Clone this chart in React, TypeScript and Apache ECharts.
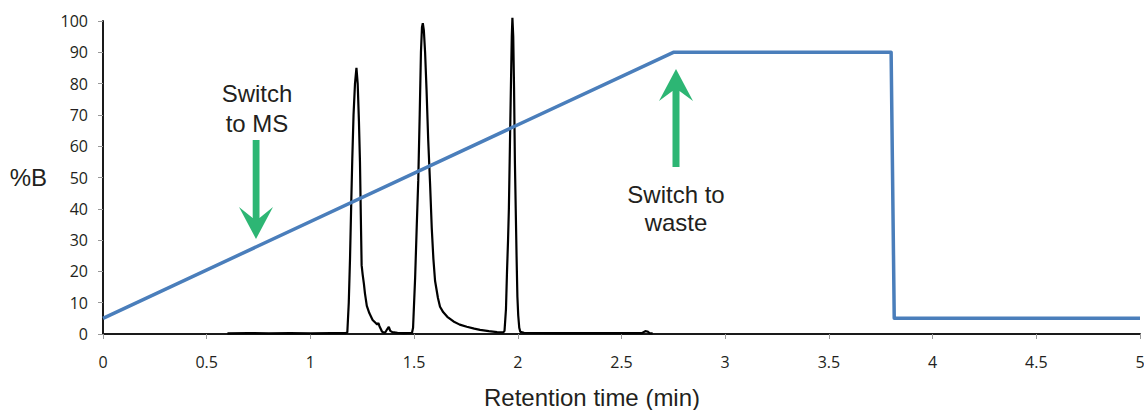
import React, { useEffect, useRef } from "react";
import * as echarts from "echarts";

// %B gradient program (time in min, %B)
const gradientTime = [0, 2.75, 3.8, 3.815, 5];
const gradientB = [5, 90, 90, 5, 5];

// Chromatogram trace (time in min, relative intensity)
const chromTime = [
  0.6, 0.7, 0.8, 0.9, 1.0, 1.1, 1.17, 1.178, 1.185, 1.191, 1.197, 1.202, 1.208, 1.215, 1.222,
  1.228, 1.234, 1.239, 1.243, 1.247, 1.252, 1.258, 1.263, 1.272, 1.284, 1.3, 1.315, 1.322,
  1.328, 1.333, 1.34, 1.345, 1.352, 1.36, 1.37, 1.378, 1.385, 1.395, 1.42, 1.45, 1.49, 1.495,
  1.505, 1.513, 1.52, 1.527, 1.533, 1.538, 1.542, 1.547, 1.553, 1.56, 1.568, 1.577, 1.585,
  1.593, 1.601, 1.615, 1.625, 1.64, 1.66, 1.69, 1.72, 1.754, 1.79, 1.818, 1.86, 1.9, 1.93,
  1.936, 1.94, 1.943, 1.948, 1.953, 1.957, 1.962, 1.967, 1.971, 1.974, 1.978, 1.982, 1.986,
  1.99, 1.994, 1.998, 2.002, 2.007, 2.012, 2.03, 2.2, 2.4, 2.6, 2.615, 2.625, 2.635, 2.65,
];
const chromSignal = [
  0.2, 0.3, 0.2, 0.3, 0.2, 0.3, 0.3, 0.5, 10, 24, 42, 56, 70, 80, 85,
  80, 68, 55, 38, 22, 19, 16, 13, 9, 6.7, 4.5, 3.5, 3.0,
  3.5, 2.5, 1.5, 0.8, 0.5, 0.4, 1.5, 2.3, 1.0, 0.6, 0.4, 0.3, 0.4, 2,
  18, 35, 49, 70, 90, 98, 99.3, 97, 90, 78, 62, 48, 34,
  24, 17, 11.5, 8.7, 7, 5.5, 4, 3, 2.3, 1.7, 1.3, 0.9, 0.6, 0.5,
  1, 5, 8, 20, 30, 40, 60, 80, 95, 101, 95, 78, 55,
  40, 25, 12, 6, 2, 0.7, 0.4, 0.3, 0.3, 0.3, 0.9, 0.8, 0.3, 0.2,
];

const yTicksMax = 100;
const xTicksMax = 5;

const annotationMS = "Switch\nto MS";
const annotationWaste = "Switch to\nwaste";
const xTitle = "Retention time (min)";
const yTitle = "%B";

const GREEN = "#2db674";
const BLUE = "#4a7ebb";
const TEXT = "#231f20";

export default function App() {
  const ref = useRef<HTMLDivElement>(null);

  useEffect(() => {
    if (!ref.current) return;
    const chart = echarts.init(ref.current, null, { renderer: "svg" });
    const chromData = chromTime.map((t, i) => [t, chromSignal[i]]);
    const gradData = gradientTime.map((t, i) => [t, gradientB[i]]);

    chart.setOption({
      animation: false,
      grid: { left: 103, right: 4, top: 21, bottom: 76, containLabel: false, outerBoundsMode: "none" },
      xAxis: {
        type: "value",
        min: 0,
        max: xTicksMax,
        interval: 0.5,
        splitLine: { show: false },
        axisLine: { lineStyle: { color: "#1a1a1a", width: 2 } },
        axisTick: { show: true, length: 5, lineStyle: { color: "#999", width: 1 } },
        axisLabel: {
          margin: 20,
          fontFamily: "Open Sans",
          fontSize: 16,
          color: TEXT,
        },
      },
      yAxis: {
        type: "value",
        min: 0,
        max: yTicksMax,
        interval: 10,
        name: yTitle,
        nameLocation: "middle",
        nameRotate: 0,
        nameGap: 56,
        nameTextStyle: { fontFamily: "Liberation Sans", fontSize: 24, color: TEXT },
        splitLine: { show: false },
        axisLine: { show: true, lineStyle: { color: "#1a1a1a", width: 2 } },
        axisTick: { show: true, length: 5, lineStyle: { color: "#999", width: 1 } },
        axisLabel: {
          margin: 15,
          fontFamily: "Open Sans",
          fontSize: 16,
          color: TEXT,
        },
      },
      series: [
        {
          type: "line",
          data: chromData,
          showSymbol: false,
          clip: false,
          lineStyle: { color: "#000", width: 2.2 },
          z: 2,
        },
        {
          type: "line",
          data: gradData,
          showSymbol: false,
          clip: false,
          lineStyle: { color: BLUE, width: 3.5, join: "round" },
          z: 3,
        },
      ],
      graphic: [
        {
          type: "text",
          x: 592,
          y: 397,
          style: {
            text: xTitle,
            fontFamily: "Liberation Sans",
            fontSize: 24,
            fill: TEXT,
            align: "center",
            verticalAlign: "middle",
          },
        },
        {
          type: "text",
          x: 257,
          y: 108,
          style: {
            text: annotationMS,
            fontFamily: "Liberation Sans",
            fontSize: 24,
            lineHeight: 30,
            fill: TEXT,
            align: "center",
            verticalAlign: "middle",
          },
        },
        {
          type: "text",
          x: 676,
          y: 208,
          style: {
            text: annotationWaste,
            fontFamily: "Liberation Sans",
            fontSize: 24,
            lineHeight: 28,
            fill: TEXT,
            align: "center",
            verticalAlign: "middle",
          },
        },
        {
          type: "polygon",
          shape: {
            points: [
              [252.7, 140], [259.5, 140], [259.5, 218], [273, 207],
              [256, 239], [239, 207], [252.7, 218],
            ],
          },
          style: { fill: GREEN },
        },
        {
          type: "polygon",
          shape: {
            points: [
              [676, 69], [693, 101], [679.5, 91], [679.5, 167],
              [672.5, 167], [672.5, 91], [659, 101],
            ],
          },
          style: { fill: GREEN },
        },
      ],
    });
    return () => chart.dispose();
  }, []);

  return (
    <div
      ref={ref}
      style={{ position: "absolute", left: 0, top: 0, width: 1144, height: 410, background: "#fff" }}
    />
  );
}
